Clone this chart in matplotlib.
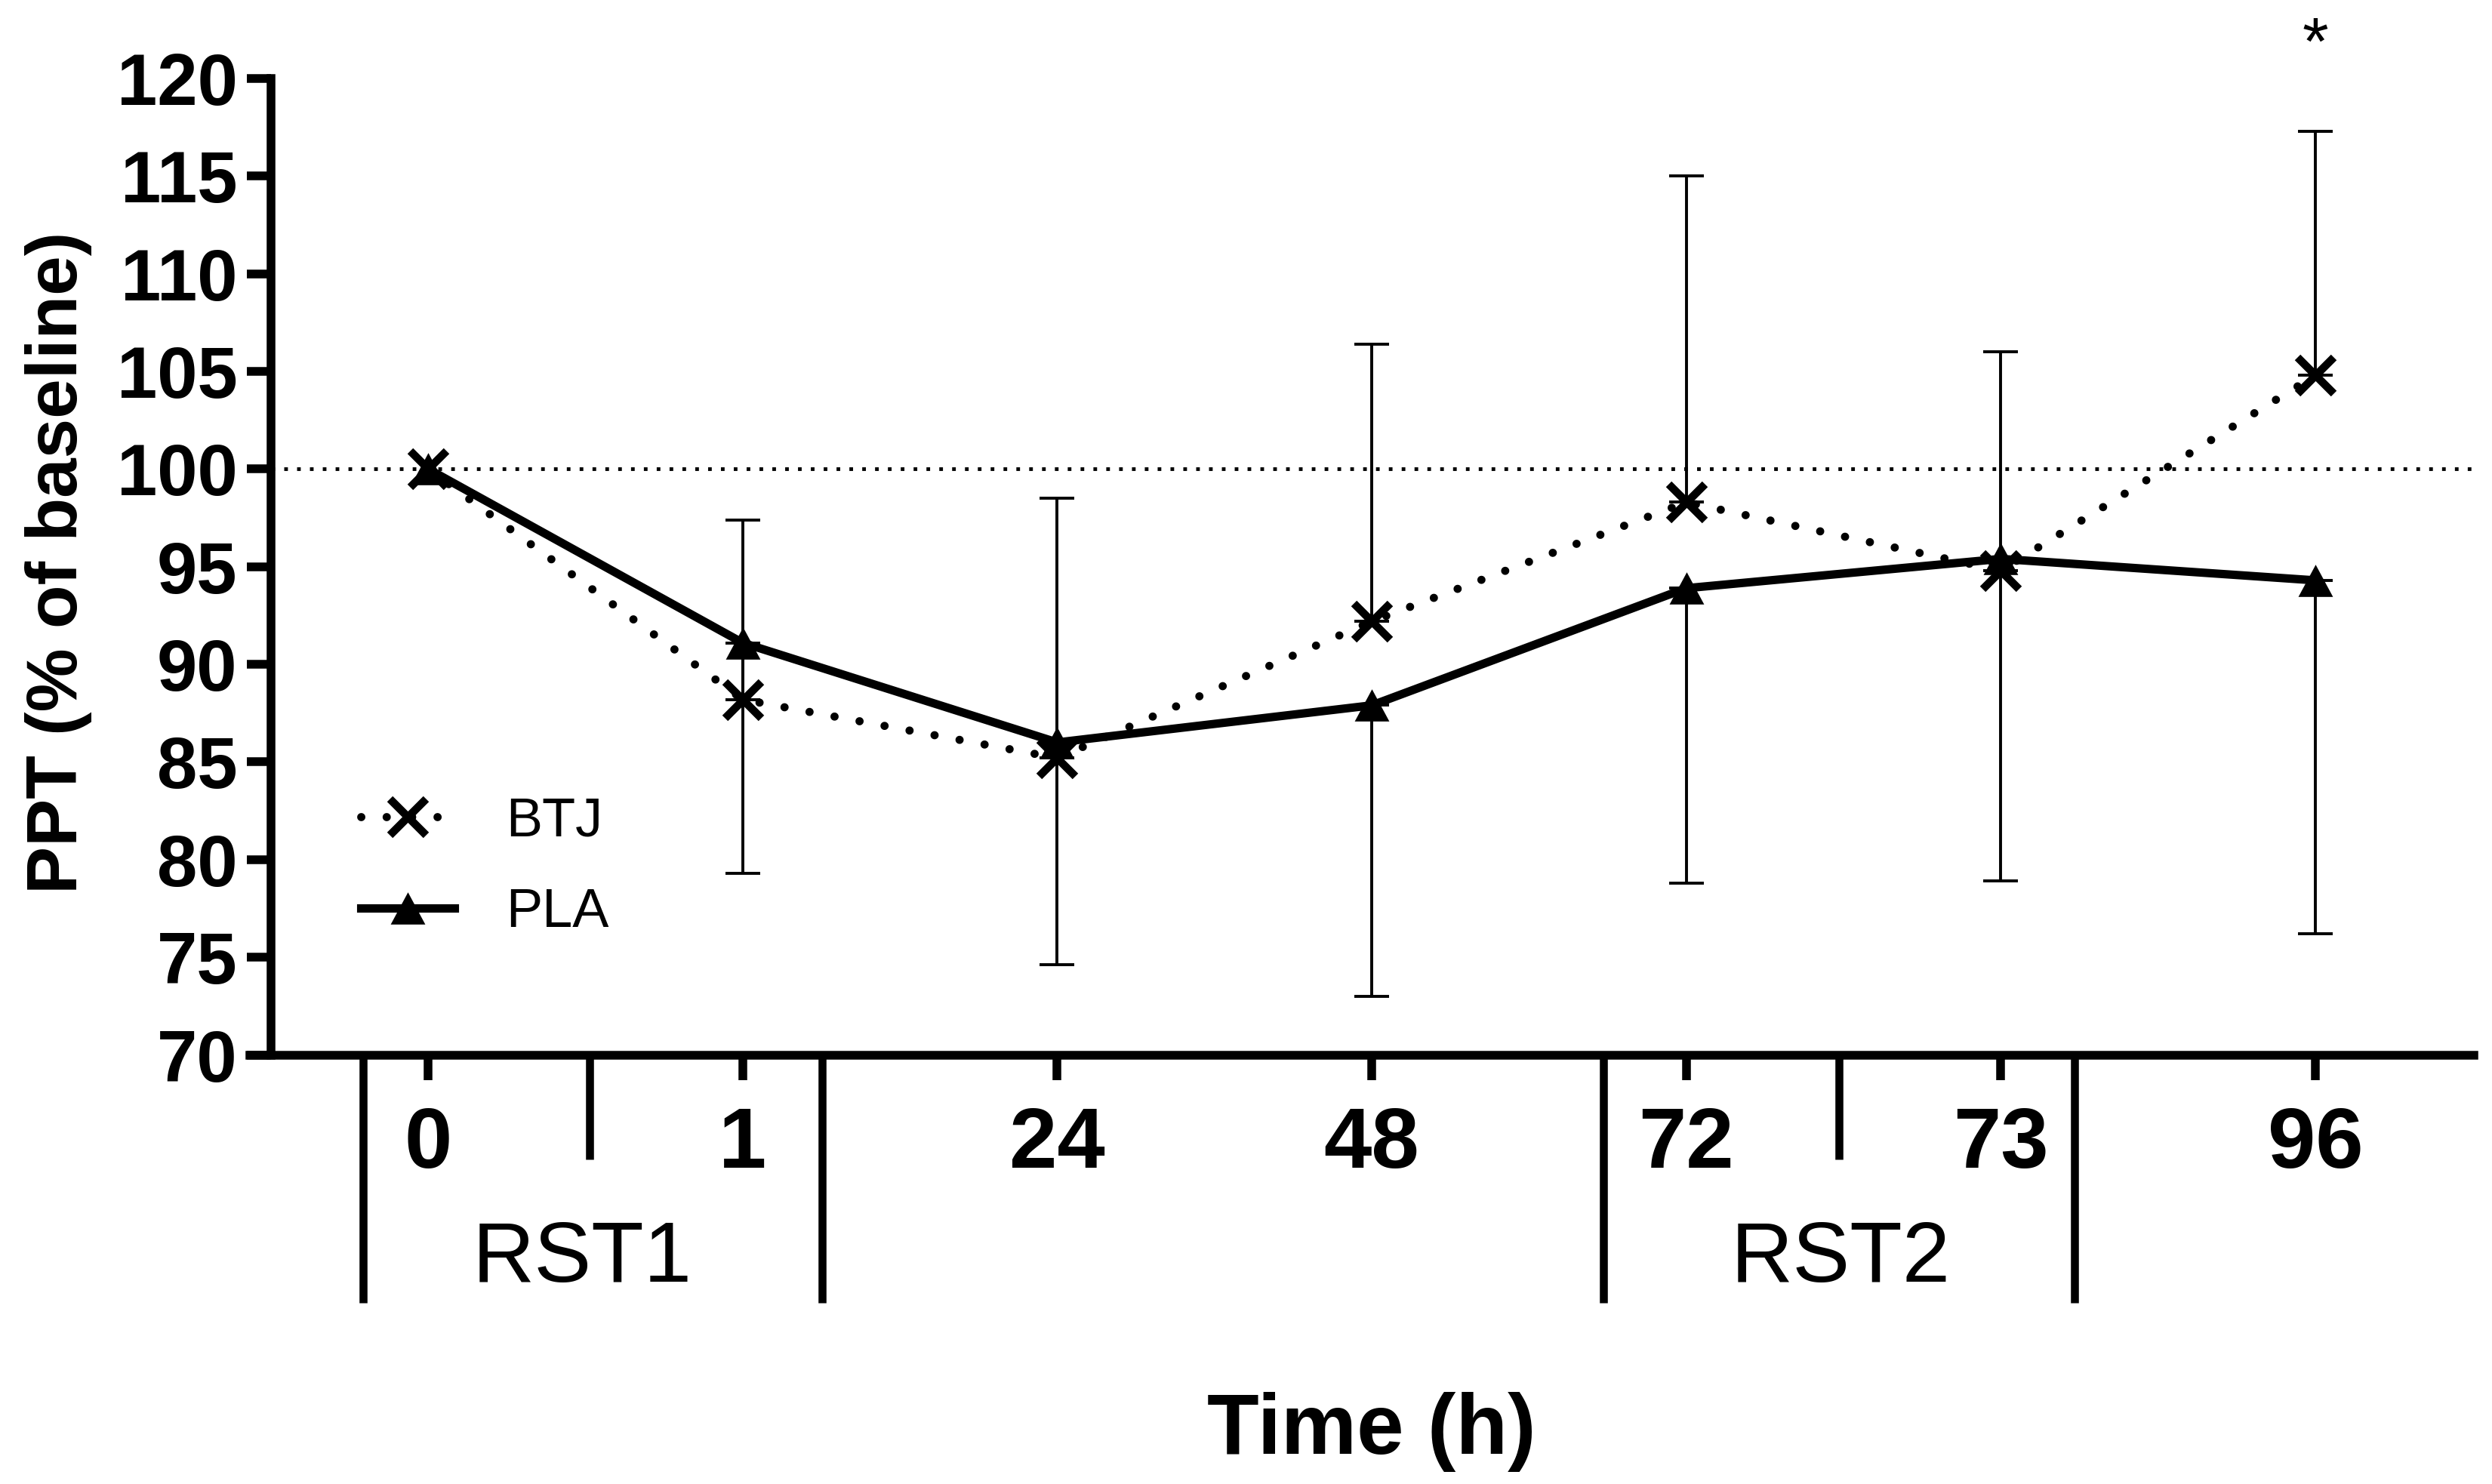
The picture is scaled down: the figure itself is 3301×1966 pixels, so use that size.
import numpy as np
import matplotlib
matplotlib.use("Agg")
import matplotlib.pyplot as plt

# values
time_labels = ["0", "1", "24", "48", "72", "73", "96"]
btj_mean = [100.0, 88.2, 85.2, 92.2, 98.3, 94.8, 104.8]
btj_sd = [0.0, 9.2, 13.3, 14.2, 16.7, 11.2, 12.5]
pla_mean = [100.0, 91.1, 86.0, 87.9, 93.9, 95.4, 94.3]
pla_sd = [0.0, 11.8, 11.4, 14.9, 15.1, 16.5, 18.1]
baseline = 100
sig_index = 6  # "*" above 96 h

group_names = ["RST1", "RST2"]

# bracket layout under the x axis (in x-category units)
long_dividers = [-0.206, 1.253, 3.737, 5.234]
short_dividers = [0.514, 4.486]
group_centres = [0.49, 4.49]

W, H = 3301, 1966
plt.rcParams['font.family'] = ['Liberation Sans', 'DejaVu Sans']

fig = plt.figure(figsize=(W / 100, H / 100), dpi=100)
ax = fig.add_axes([331 / W, 1 - 1397.5 / H, (3277 - 331) / W, (1397.5 - 104) / H])

x = np.arange(len(time_labels))
btj_mean = np.array(btj_mean)
pla_mean = np.array(pla_mean)
btj_sd = np.array(btj_sd)
pla_sd = np.array(pla_sd)

ax.set_xlim(-0.567, 6.504)
ax.set_ylim(70, 120)

# baseline reference
ax.hlines(baseline, -0.5, 6.504, colors='black', linewidth=3.5,
          linestyles=[(0, (1, 2.5))], zorder=1)

# one-sided error bars: BTJ up, PLA down
has = btj_sd > 0
zeros = np.zeros(has.sum())
ax.errorbar(x[has], btj_mean[has], yerr=[zeros, btj_sd[has]], fmt='none',
            ecolor='black', elinewidth=2.8, capsize=16.5, capthick=2.8, zorder=2)
has = pla_sd > 0
zeros = np.zeros(has.sum())
ax.errorbar(x[has], pla_mean[has], yerr=[pla_sd[has], zeros], fmt='none',
            ecolor='black', elinewidth=2.8, capsize=16.5, capthick=2.8, zorder=2)

tri = [(0, 0.93), (-1, -0.93), (1, -0.93)]
ax.plot(x, pla_mean, color='black', lw=8, marker=tri, markersize=33,
        markeredgewidth=0, zorder=3, label='PLA')
ax.plot(x, btj_mean, color='black', lw=7.8, linestyle=(0, (0.01, 3.1)),
        dash_capstyle='round', marker='x', markersize=34.5,
        markeredgewidth=7.6, zorder=4, label='BTJ')

ax.text(x[sig_index], 120.75, '*', ha='center', va='baseline', fontsize=64,
        clip_on=False)

# axes styling
for s in ['top', 'right']:
    ax.spines[s].set_visible(False)
ax.spines['left'].set_position(('data', -0.5))
for s in ['left', 'bottom']:
    ax.spines[s].set_linewidth(8.3)
ax.tick_params(length=23.4, width=8.3, direction='out', color='black')
ax.tick_params(axis='y', labelsize=69, pad=8.6)
ax.tick_params(axis='x', labelsize=82, pad=25)
ax.set_yticks(np.arange(70, 121, 5))
ax.set_xticks(x, time_labels)
for lab in ax.get_xticklabels() + ax.get_yticklabels():
    lab.set_fontweight('bold')

# group brackets below the axis
for xd in long_dividers:
    ax.plot([xd, xd], [70, 57.3], color='black', lw=7.6,
            solid_capstyle='butt', clip_on=False)
for xd in short_dividers:
    ax.plot([xd, xd], [70, 64.65], color='black', lw=7.6,
            solid_capstyle='butt', clip_on=False)
for name, xc in zip(group_names, group_centres):
    ax.text(xc, 58.38, name, ha='center', va='baseline', fontsize=82,
            clip_on=False)

handles, labels = ax.get_legend_handles_labels()
ax.legend(handles[::-1], labels[::-1], loc='upper left',
          bbox_to_anchor=(478 / W, 1 - 1055 / H), bbox_transform=fig.transFigure,
          frameon=False, fontsize=52, handlelength=1.72, handletextpad=0.94,
          labelspacing=0.75, borderpad=0, borderaxespad=0, numpoints=1)

fig.text(1817 / W, 40 / H, 'Time (h)', ha='center', va='baseline',
         fontsize=81, fontweight='bold')
fig.text(78 / W, 1 - 745 / H, 'PPT (% of baseline)', rotation=90,
         ha='center', va='center', fontsize=68, fontweight='bold')

ax.set_xlim(-0.567, 6.504)
ax.set_ylim(70, 120)
fig.savefig('out.png', dpi=100)
